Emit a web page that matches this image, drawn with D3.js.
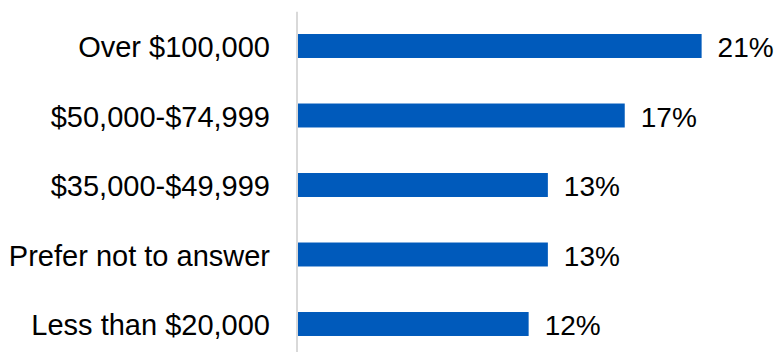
<!DOCTYPE html>
<html>
<head>
<meta charset="utf-8">
<script src="https://cdn.jsdelivr.net/npm/d3@7"></script>
<style>
  html, body { margin: 0; padding: 0; background: #fff; }
  svg { display: block; }
</style>
</head>
<body>
<svg id="chart" width="780" height="352"></svg>
<script>
const categories = ["Over $100,000", "$50,000-$74,999", "$35,000-$49,999", "Prefer not to answer", "Less than $20,000"];
const values = [21, 17, 13, 13, 12];
const valueLabels = ["21%", "17%", "13%", "13%", "12%"];

const svg = d3.select("#chart");
const font = "Arial, 'Liberation Sans', sans-serif";
const axisX = 296.5;

const y = d3.scaleBand()
  .domain(categories)
  .range([11.25, 358.75])
  .paddingInner(0.655)
  .paddingOuter(0.3275);

const x = d3.scaleLinear()
  .domain([0, 25])
  .range([298, 298 + 25 * 19.22]);

const data = categories.map((c, i) => ({ c, v: values[i], label: valueLabels[i] }));

svg.selectAll("rect.bar")
  .data(data)
  .join("rect")
  .attr("class", "bar")
  .attr("x", x(0))
  .attr("y", d => y(d.c))
  .attr("width", d => x(d.v) - x(0))
  .attr("height", y.bandwidth())
  .attr("fill", "#005ABB");

const axis = svg.append("g")
  .attr("transform", `translate(${axisX},0)`)
  .call(d3.axisLeft(y).tickSize(0).tickPadding(26.5));
axis.select(".domain").attr("stroke", "#d9d9d9").attr("stroke-width", 2);
axis.selectAll(".tick text")
  .attr("font-family", font)
  .attr("font-size", 29)
  .attr("fill", "#000")
  .attr("dy", "0.38em");

svg.selectAll("text.val")
  .data(data)
  .join("text")
  .attr("class", "val")
  .attr("x", d => x(d.v) + 16)
  .attr("y", d => y(d.c) + y.bandwidth() / 2)
  .attr("dy", "0.4em")
  .attr("font-family", font)
  .attr("font-size", 28)
  .attr("fill", "#000")
  .text(d => d.label);
</script>
</body>
</html>
